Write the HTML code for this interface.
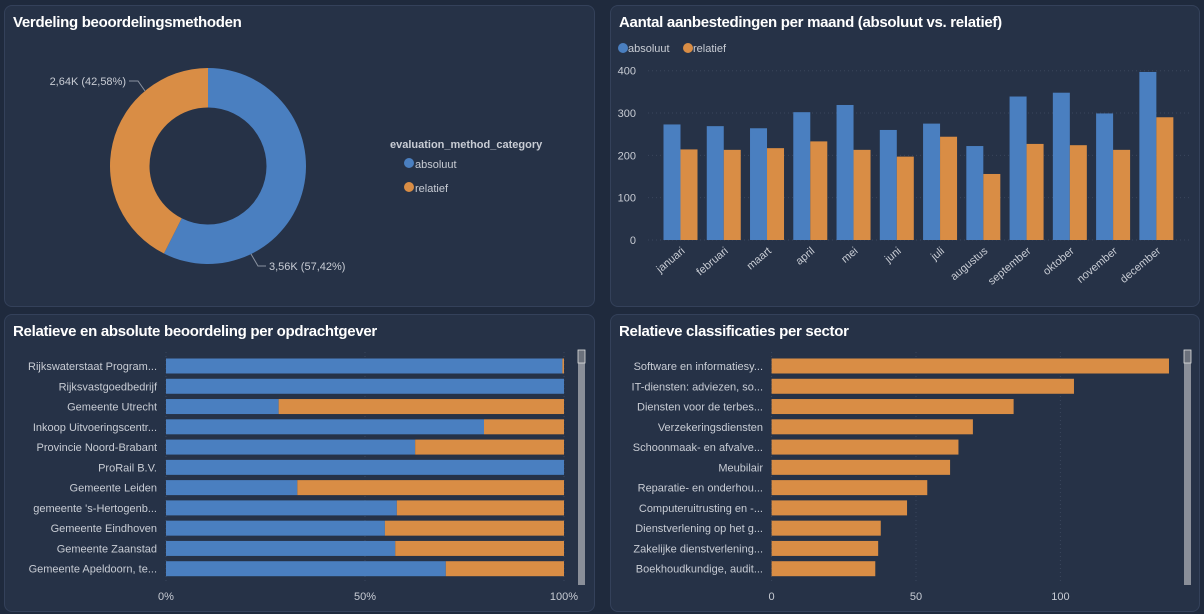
<!DOCTYPE html>
<html><head><meta charset="utf-8">
<style>
body{margin:0;width:1204px;height:614px;background:#1f2a3d;font-family:"Liberation Sans",sans-serif;overflow:hidden;position:relative}
.panel{position:absolute;background:#263247;border:1px solid #34415a;border-radius:8px;box-sizing:border-box}
.title{position:absolute;left:8px;top:8px;color:#fff;font-size:15px;font-weight:bold;white-space:nowrap;letter-spacing:-0.3px}
svg{position:absolute;left:0;top:0}
text{font-family:"Liberation Sans",sans-serif;fill:#c8ccd4;font-size:11px}
</style></head><body>
<div class="panel" style="left:4px;top:5px;width:591px;height:302px">
<div class="title">Verdeling beoordelingsmethoden</div></div>
<div class="panel" style="left:610px;top:5px;width:590px;height:302px">
<div class="title">Aantal aanbestedingen per maand (absoluut vs. relatief)</div></div>
<div class="panel" style="left:4px;top:314px;width:591px;height:298px">
<div class="title">Relatieve en absolute beoordeling per opdrachtgever</div></div>
<div class="panel" style="left:610px;top:314px;width:590px;height:298px">
<div class="title">Relatieve classificaties per sector</div></div>
<svg id="s" width="1204" height="614"></svg>
<script>
const donutLabels=["absoluut","relatief"];
const donutValues=[3.56,2.64];
const donutText=["3,56K (57,42%)","2,64K (42,58%)"];
const months=["januari","februari","maart","april","mei","juni","juli","augustus","september","oktober","november","december"];
const absVals=[273,269,264,302,319,260,275,222,339,348,299,397];
const relVals=[214,213,217,233,213,197,244,156,227,224,213,290];
const yTicks=[0,100,200,300,400];
const clients=["Rijkswaterstaat Program...","Rijksvastgoedbedrijf","Gemeente Utrecht","Inkoop Uitvoeringscentr...","Provincie Noord-Brabant","ProRail B.V.","Gemeente Leiden","gemeente 's-Hertogenb...","Gemeente Eindhoven","Gemeente Zaanstad","Gemeente Apeldoorn, te..."];
const clientAbsPct=[99.6,100,28.3,79.9,62.6,100,33,58,55,57.6,70.3];
const pctTicks=[0,50,100];
const sectors=["Software en informatiesy...","IT-diensten: adviezen, so...","Diensten voor de terbes...","Verzekeringsdiensten","Schoonmaak- en afvalve...","Meubilair","Reparatie- en onderhou...","Computeruitrusting en -...","Dienstverlening op het g...","Zakelijke dienstverlening...","Boekhoudkundige, audit..."];
const sectorVals=[137.6,104.7,83.8,69.7,64.7,61.8,53.9,46.9,37.8,36.9,35.9];
const sectorTicks=[0,50,100];
const BLUE="#4a7fc0",ORANGE="#d98d45";
const S=document.getElementById('s');const NS="http://www.w3.org/2000/svg";
function mk(t,a,txt){const e=document.createElementNS(NS,t);for(const k in a)e.setAttribute(k,a[k]);if(txt!==undefined)e.textContent=txt;S.appendChild(e);return e;}
// donut
const cx=208,cy=166,R=98,r=58.5;const tot=donutValues.reduce((a,b)=>a+b,0);let ang=0;
const p=(a,rr)=>[cx+rr*Math.sin(a),cy-rr*Math.cos(a)];
donutValues.forEach((v,i)=>{const a0=ang,a1=ang+v/tot*2*Math.PI;ang=a1;
const lg=(a1-a0)>Math.PI?1:0;
const [x0,y0]=p(a0,R),[x1,y1]=p(a1,R),[x2,y2]=p(a1,r),[x3,y3]=p(a0,r);
const e=mk('path',{d:`M${x0},${y0}A${R},${R} 0 ${lg} 1 ${x1},${y1}L${x2},${y2}A${r},${r} 0 ${lg} 0 ${x3},${y3}Z`,fill:i?ORANGE:BLUE});

});
// leader lines (labels placed at slice edges as in reference)
const ln1=mk('polyline',{points:`251,254 258,266 266,266`,fill:'none',stroke:'#8a92a0','stroke-width':1});


const t1=mk('text',{x:269,y:270},donutText[0]);


const ln2=mk('polyline',{points:`145,91 138,81 129,81`,fill:'none',stroke:'#8a92a0','stroke-width':1});


const t2=mk('text',{x:126,y:85,'text-anchor':'end'},donutText[1]);


const lt=mk('text',{x:390,y:148,'font-size':12,'font-weight':'bold',fill:'#d0d4dc'},'evaluation_method_category');


donutLabels.forEach((l,i)=>{const c=mk('circle',{cx:409,cy:163+i*24,r:5,fill:i?ORANGE:BLUE});


const t=mk('text',{x:415,y:168+i*24,'font-size':13},l);

});
// monthly
const y0=240,yPer=169.3/400,x0=663.5,step=43.26,bw=17;
const yS=v=>y0-v*yPer;
yTicks.forEach(v=>{const g=mk('line',{x1:648,x2:1190,y1:yS(v),y2:yS(v),stroke:'#3a465c','stroke-dasharray':'1 3'});


const t=mk('text',{x:636,y:yS(v)+4,'text-anchor':'end'},v);

});
[["absoluut",BLUE,617],["relatief",ORANGE,682]].forEach(([l,c,x])=>{const d=mk('circle',{cx:x+6,cy:48,r:5,fill:c});


const t=mk('text',{x:x+11,y:52,'font-size':13},l);

});
months.forEach((m,i)=>{const gx=x0+i*step;
const b1=mk('rect',{x:gx,y:yS(absVals[i]),width:bw,height:absVals[i]*yPer,fill:BLUE});


const b2=mk('rect',{x:gx+bw,y:yS(relVals[i]),width:bw,height:relVals[i]*yPer,fill:ORANGE});


const cxm=gx+bw+5;const t=mk('text',{x:cxm,y:252,'text-anchor':'end',transform:`rotate(-40 ${cxm} 252)`},m);

});
// client stacked
const cx0=166,cx1=564,rowY=366,rowStep=20.27,bh=15;
const pS=q=>cx0+(cx1-cx0)*q/100;
pctTicks.forEach(q=>{const g=mk('line',{x1:pS(q),x2:pS(q),y1:352,y2:582,stroke:'#3a465c','stroke-dasharray':'1 3'});


const t=mk('text',{x:pS(q),y:600,'text-anchor':'middle'},q+'%');

});
clients.forEach((c,i)=>{const y=rowY+i*rowStep;
const t=mk('text',{x:157,y:y+4,'text-anchor':'end'},c);


const b1=mk('rect',{x:cx0,y:y-bh/2,width:pS(clientAbsPct[i])-cx0,height:bh,fill:BLUE});


const b2=mk('rect',{x:pS(clientAbsPct[i]),y:y-bh/2,width:cx1-pS(clientAbsPct[i]),height:bh,fill:ORANGE});

});
// sector
const sx0=771.6,sPer=144.4/50;const sS=v=>sx0+v*sPer;
sectorTicks.forEach(v=>{const g=mk('line',{x1:sS(v),x2:sS(v),y1:352,y2:582,stroke:'#3a465c','stroke-dasharray':'1 3'});


const t=mk('text',{x:sS(v),y:600,'text-anchor':'middle'},v);

});
sectors.forEach((s,i)=>{const y=rowY+i*rowStep;
const t=mk('text',{x:763,y:y+4,'text-anchor':'end'},s);


const b=mk('rect',{x:sx0,y:y-bh/2,width:sectorVals[i]*sPer,height:bh,fill:ORANGE});

});
// scrollbars
[578,1184].forEach(x=>{const tr=mk('rect',{x:x,y:350,width:7,height:235,fill:'#8a8f99'});


const th=mk('rect',{x:x,y:350,width:7,height:13,fill:'#6b717c',stroke:'#e0e0e0','stroke-width':0.8});

});
</script>
</body></html>
